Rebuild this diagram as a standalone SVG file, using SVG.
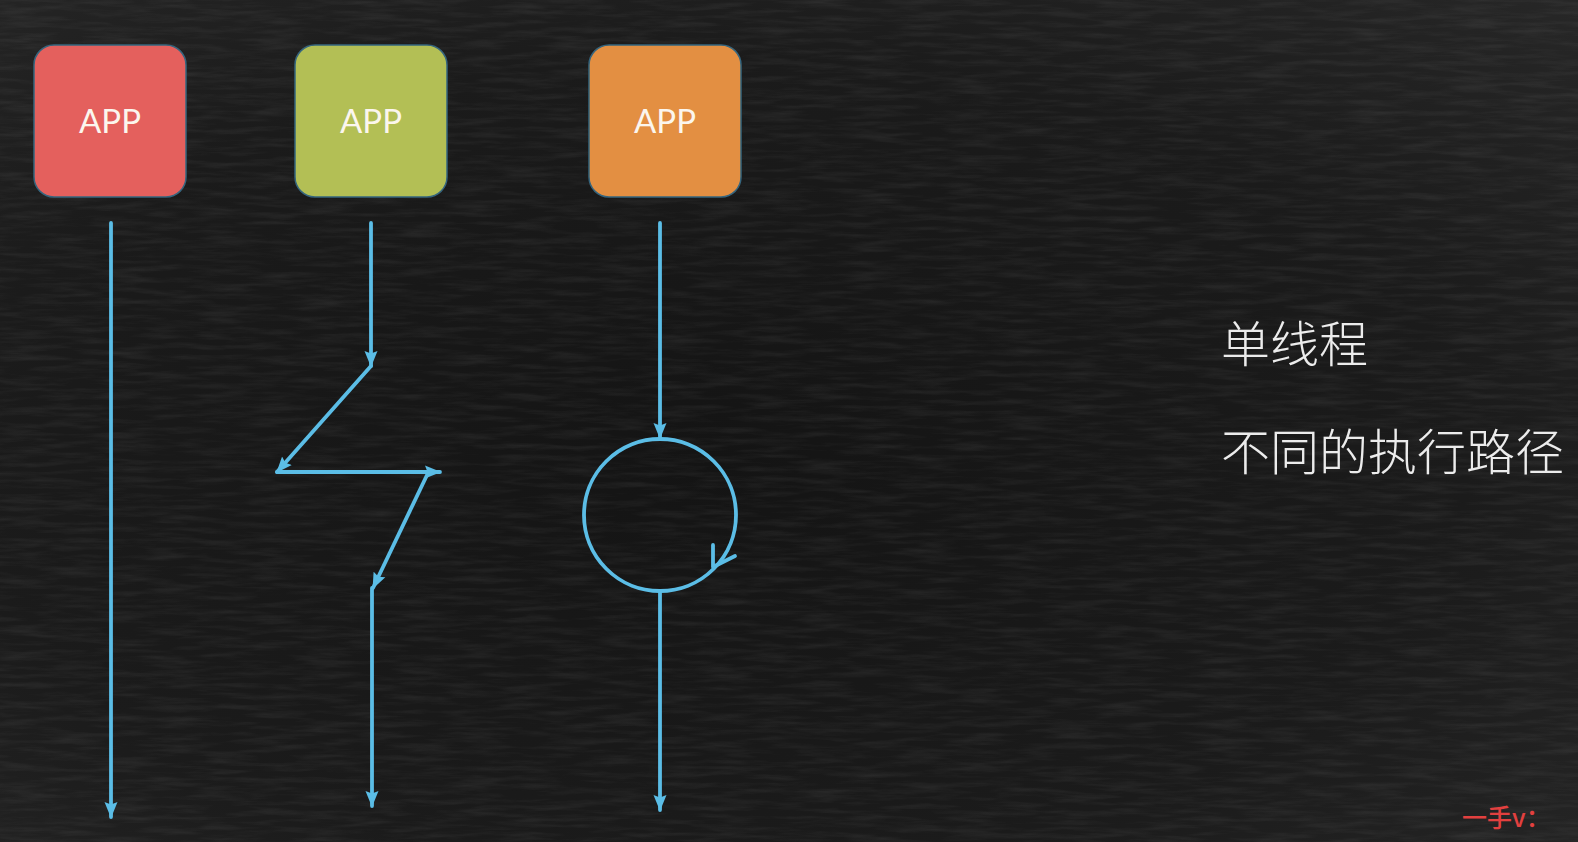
<svg xmlns="http://www.w3.org/2000/svg" width="1578" height="842" viewBox="0 0 1578 842">
  <defs>
    <style>
      .box { stroke: #35657e; stroke-width: 1.5; }
      .app { font-family: Lato, "Open Sans", "Liberation Sans", sans-serif; font-size: 33px; fill: #fbf6ee; text-anchor: middle; }
      .flow { fill: none; stroke: #5bbde6; stroke-width: 3.8; stroke-linecap: round; stroke-linejoin: round; }
      .arr { marker-end: url(#ah); }
      .cjk { font-family: "Noto Sans CJK SC", "Noto Sans", sans-serif; font-weight: 300; font-size: 49px; fill: #ececec; }
      .wm { font-family: "Noto Sans CJK SC", "Liberation Sans", sans-serif; font-weight: 500; font-size: 25px; fill: #e2403f; }
    </style>
    <marker id="ah" viewBox="0 0 16 14" refX="15" refY="7" markerWidth="16" markerHeight="14" markerUnits="userSpaceOnUse" orient="auto">
      <path d="M0,0.5 L16,7 L0,13.5 L2.5,7 Z" fill="#5bbde6"/>
    </marker>
    <filter id="grain" x="0" y="0" width="100%" height="100%">
      <feTurbulence type="fractalNoise" baseFrequency="0.02 0.18" numOctaves="4" seed="7"/>
      <feColorMatrix type="matrix" values="0 0 0 0 1  0 0 0 0 1  0 0 0 0 1  0.5 0 0 0 -0.2"/>
    </filter>
    <radialGradient id="bgG" cx="0.45" cy="0.55" r="0.8">
      <stop offset="0" stop-color="#141414"/>
      <stop offset="0.6" stop-color="#1b1b1b"/>
      <stop offset="1" stop-color="#282828"/>
    </radialGradient>
  </defs>

  <g id="background">
    <rect x="0" y="0" width="1578" height="842" fill="url(#bgG)"/>
    <rect x="0" y="0" width="1578" height="842" filter="url(#grain)" opacity="0.25"/>
  </g>

  <g id="app-red">
    <rect class="box" x="34" y="45" width="152" height="152" rx="20" fill="#e4605d"/>
    <text class="app" x="110" y="133">APP</text>
  </g>
  <g id="app-green">
    <rect class="box" x="295" y="45" width="152" height="152" rx="20" fill="#b3bf55"/>
    <text class="app" x="371" y="133">APP</text>
  </g>
  <g id="app-orange">
    <rect class="box" x="589" y="45" width="152" height="152" rx="20" fill="#e38f42"/>
    <text class="app" x="665" y="133">APP</text>
  </g>

  <g id="connectors">
    <line class="flow arr" x1="111" y1="223" x2="111" y2="817"/>

    <line class="flow arr" x1="371" y1="223" x2="371" y2="366"/>
    <line class="flow arr" x1="371" y1="366" x2="277" y2="472"/>
    <line class="flow arr" x1="277" y1="472" x2="440" y2="472"/>
    <line class="flow arr" x1="428" y1="473" x2="373" y2="588"/>
    <line class="flow arr" x1="372" y1="588" x2="372" y2="806"/>

    <line class="flow arr" x1="660" y1="223" x2="660" y2="438"/>
    <circle class="flow" cx="660" cy="515" r="76"/>
    <path class="flow" d="M713,545 L713,567 L735,556"/>
    <line class="flow arr" x1="660" y1="591" x2="660" y2="810"/>
  </g>

  <g id="labels">
    <text class="cjk" x="1221" y="362">单线程</text>
    <text class="cjk" x="1221" y="470">不同的执行路径</text>
    <text class="wm" x="1462" y="827">一手v：</text>
  </g>
</svg>
